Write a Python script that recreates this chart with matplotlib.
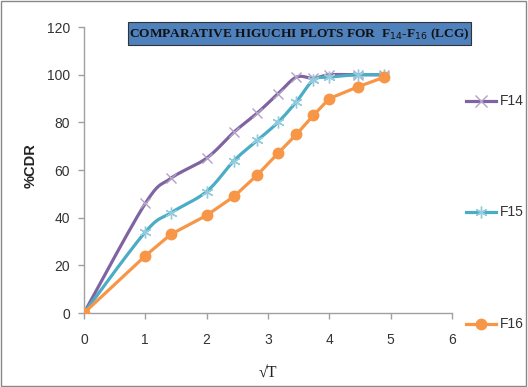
import numpy as np
import matplotlib
matplotlib.use("Agg")
import matplotlib.pyplot as plt
from matplotlib.patches import Rectangle

sqrt_t = [0, 1, 1.414, 2, 2.449, 2.828, 3.162, 3.464, 3.742, 4, 4.472, 4.899]
f14 = [0, 46, 56.5, 65, 76, 84, 92, 99, 98.5, 100, 100, 100]
f15 = [0, 34, 42, 51, 64, 72.5, 80, 88.7, 97.8, 99, 100, 100]
f16 = [0, 24, 33, 41, 49, 58, 67, 75, 83, 90, 95, 99]
series_names = ["F14", "F15", "F16"]
x_ticks = [0, 1, 2, 3, 4, 5, 6]
y_ticks = [0, 20, 40, 60, 80, 100, 120]


def smooth(x, y, n=20):
    x = np.asarray(x, float)
    y = np.asarray(y, float)
    px = np.concatenate([[x[0]], x, [x[-1]]])
    py = np.concatenate([[y[0]], y, [y[-1]]])
    xs, ys = [], []
    for i in range(1, len(px) - 2):
        p0 = np.array([px[i - 1], py[i - 1]])
        p1 = np.array([px[i], py[i]])
        p2 = np.array([px[i + 1], py[i + 1]])
        p3 = np.array([px[i + 2], py[i + 2]])
        c1 = p1 + (p2 - p0) / 6.0
        c2 = p2 - (p3 - p1) / 6.0
        t = np.linspace(0, 1, n, endpoint=False)[:, None]
        pts = ((1 - t) ** 3) * p1 + 3 * ((1 - t) ** 2) * t * c1 + 3 * (1 - t) * t ** 2 * c2 + t ** 3 * p2
        xs.extend(pts[:, 0]); ys.extend(pts[:, 1])
    xs.append(x[-1]); ys.append(y[-1])
    return np.array(xs), np.array(ys)


c14 = "#8064A2"
c15 = "#4BACC6"
c16 = "#F79646"

fig = plt.figure(figsize=(5.28, 3.87), dpi=100)
ax = fig.add_axes([0.159, 0.191, 0.697, 0.739])

sx, sy = smooth(sqrt_t, f14)
ax.plot(sx, sy, color=c14, lw=2.3, solid_capstyle="round", zorder=3)
ax.plot(sqrt_t, f14, ls="none", marker="x", ms=7.5, mew=1.0, color="#B3A2C7", zorder=4)

sx, sy = smooth(sqrt_t, f15)
ax.plot(sx, sy, color=c15, lw=2.3, solid_capstyle="round", zorder=3)
ax.plot(sqrt_t, f15, ls="none", marker=(6, 2, 0), ms=8.5, mew=1.0, color="#93CDDD", zorder=4)

ax.plot(sqrt_t, f16, color=c16, lw=2.3, marker="o", ms=7.5, mfc=c16, mec=c16, zorder=5)

ax.set_xlim(0, 6)
ax.set_ylim(0, 120)
ax.set_xticks(x_ticks)
ax.set_yticks(y_ticks)
for s in ["top", "right"]:
    ax.spines[s].set_visible(False)
for s in ["left", "bottom"]:
    ax.spines[s].set_color("#A0A0A0")
    ax.spines[s].set_linewidth(1.0)
ax.tick_params(colors="#A0A0A0", labelcolor="#333333", labelsize=10, length=4, width=1)
for lab in ax.get_xticklabels() + ax.get_yticklabels():
    lab.set_family("Liberation Sans")
ax.tick_params(axis="x", pad=10)
ax.tick_params(axis="y", pad=6)

fig.text(0.508, 0.038, "√T", ha="center", va="center", fontsize=11.5, family="Liberation Serif", color="#222222")
fig.text(0.058, 0.573, "%CDR", ha="center", va="center", rotation=90, fontsize=10.5,
         fontweight="bold", family="Liberation Sans", color="#222222")

# Title box
fig.patches.append(Rectangle((128 / 528, 1 - 45 / 387), (471 - 128) / 528, 23 / 387,
                             transform=fig.transFigure, facecolor="#4F81BD", edgecolor="#333333",
                             lw=0.8, zorder=10))
fig.text(299 / 528, 1 - 34 / 387, "COMPARATIVE HIGUCHI PLOTS FOR  F$_{14}$-F$_{16}$ (LCG)",
         ha="center", va="center", fontsize=9.6, fontweight="bold", family="Liberation Serif",
         color="#111111", zorder=11)

# Legend
leg_y = [101, 212, 324]
for name, yy, col, mk in [("F14", leg_y[0], c14, "x"), ("F15", leg_y[1], c15, (6, 2, 0)),
                          ("F16", leg_y[2], c16, "o")]:
    yf = 1 - yy / 387
    fig.add_artist(plt.Line2D([466 / 528, 496 / 528], [yf, yf], transform=fig.transFigure,
                              color=col, lw=2.3))
    if mk == "o":
        fig.add_artist(plt.Line2D([481 / 528], [yf], transform=fig.transFigure, ls="none",
                                  marker="o", ms=7.5, color=col))
    else:
        mc = "#B3A2C7" if name == "F14" else "#93CDDD"
        fig.add_artist(plt.Line2D([481 / 528], [yf], transform=fig.transFigure, ls="none",
                                  marker=mk, ms=8.5, mew=1.0, color=mc))
    fig.text(500 / 528, yf, name, ha="left", va="center", fontsize=10, family="Liberation Sans",
             color="#333333")

# Chart border
fig.patches.append(Rectangle((0.002, 0.003), 0.995, 0.994, transform=fig.transFigure,
                             facecolor="none", edgecolor="#888888", lw=1.0))

fig.savefig("out.png", dpi=100)
